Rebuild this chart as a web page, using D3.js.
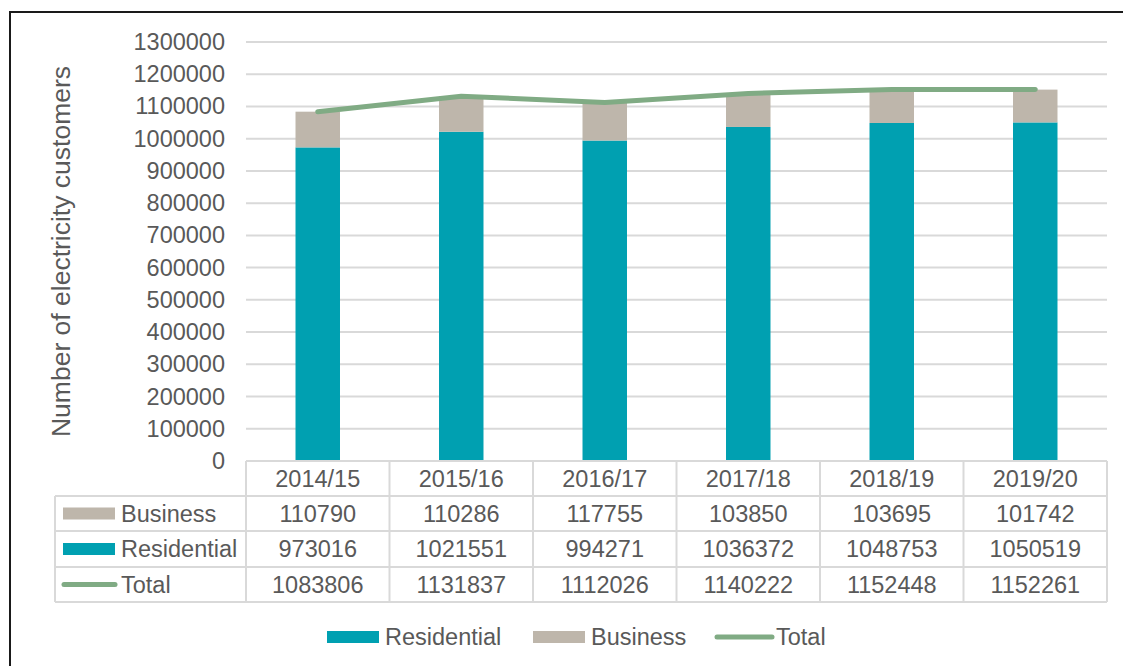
<!DOCTYPE html>
<html>
<head>
<meta charset="utf-8">
<script src="https://cdn.jsdelivr.net/npm/d3@7"></script>
<style>
  html, body { margin: 0; padding: 0; background: #fff; }
  svg { display: block; }
  text { font-family: "Liberation Sans", Arial, sans-serif; fill: #595959; }
</style>
</head>
<body>
<svg id="chart" width="1123" height="666"></svg>
<script>
// Electricity customers by financial year
const years = ["2014/15", "2015/16", "2016/17", "2017/18", "2018/19", "2019/20"];
const business = [110790, 110286, 117755, 103850, 103695, 101742];
const residential = [973016, 1021551, 994271, 1036372, 1048753, 1050519];
const total = [1083806, 1131837, 1112026, 1140222, 1152448, 1152261];
const yTicks = [0, 100000, 200000, 300000, 400000, 500000, 600000, 700000,
                800000, 900000, 1000000, 1100000, 1200000, 1300000];

const colors = { Residential: "#00A0B1", Business: "#BEB6AB", Total: "#80AB84" };
const grid = "#D9D9D9";
const fs = 23.5;

const svg = d3.select("#chart");

// outer frame
svg.append("path")
  .attr("d", "M10,700 L10,12 L1130,12")
  .attr("fill", "none").attr("stroke", "#1a1a1a").attr("stroke-width", 2);

const plot = { left: 246, right: 1107, top: 42, bottom: 461 };

const x = d3.scaleBand().domain(years).range([plot.left, plot.right]).paddingInner(0.69).paddingOuter(0.345);
const xCell = d3.scaleBand().domain(years).range([plot.left, plot.right]);
const y = d3.scaleLinear().domain([0, 1300000]).range([plot.bottom, plot.top]);

// gridlines
svg.append("g").selectAll("line").data(yTicks.filter(d => d > 0)).join("line")
  .attr("x1", plot.left).attr("x2", plot.right)
  .attr("y1", d => y(d)).attr("y2", d => y(d))
  .attr("stroke", grid).attr("stroke-width", 2);

// y axis labels
const yAxis = d3.axisLeft(y).tickValues(yTicks).tickSize(0).tickPadding(0).tickFormat(d3.format("d"));
const gy = svg.append("g").attr("transform", `translate(${plot.left - 21},0)`).call(yAxis);
gy.select(".domain").remove();
gy.selectAll("text").style("font-size", fs + "px").attr("fill", "#595959")
  .style("font-family", "'Liberation Sans', Arial, sans-serif");

// y axis title
svg.append("text")
  .attr("transform", `translate(61,${251.5}) rotate(-90)`)
  .attr("text-anchor", "middle")
  .attr("dy", "0.35em")
  .style("font-size", "26.5px")
  .text("Number of electricity customers");

// stacked bars
const stackData = years.map((yr, i) => ({ year: yr, Residential: residential[i], Business: business[i] }));
const series = d3.stack().keys(["Residential", "Business"])(stackData);
svg.append("g").selectAll("g").data(series).join("g")
  .attr("fill", s => colors[s.key])
  .selectAll("rect").data(s => s).join("rect")
  .attr("x", d => x(d.data.year))
  .attr("width", x.bandwidth())
  .attr("y", d => y(d[1]))
  .attr("height", d => y(d[0]) - y(d[1]));

// total line
const line = d3.line()
  .x((d, i) => x(years[i]) + x.bandwidth() / 2)
  .y(d => y(d));
svg.append("path").datum(total)
  .attr("d", line)
  .attr("fill", "none")
  .attr("stroke", colors.Total)
  .attr("stroke-width", 5)
  .attr("stroke-linecap", "round")
  .attr("stroke-linejoin", "round");

// data table
const rowEdges = [461, 496, 531, 567, 602];
const tableLeft = 55;
const tg = svg.append("g");
const tline = (x1, y1, x2, y2) => tg.append("line")
  .attr("x1", x1).attr("y1", y1).attr("x2", x2).attr("y2", y2)
  .attr("stroke", grid).attr("stroke-width", 2);

// horizontal lines
tline(plot.left, rowEdges[0], plot.right, rowEdges[0]);
for (let r = 1; r < rowEdges.length; r++) tline(tableLeft, rowEdges[r], plot.right, rowEdges[r]);
// vertical lines
tline(tableLeft, rowEdges[1], tableLeft, rowEdges[4]);
years.forEach(yr => tline(xCell(yr), rowEdges[0], xCell(yr), rowEdges[4]));
tline(plot.right, rowEdges[0], plot.right, rowEdges[4]);

const rowMid = r => (rowEdges[r] + rowEdges[r + 1]) / 2;
// header
tg.selectAll("text.hdr").data(years).join("text").attr("class", "hdr")
  .attr("x", d => xCell(d) + xCell.bandwidth() / 2)
  .attr("y", rowMid(0)).attr("dy", "0.35em")
  .attr("text-anchor", "middle").style("font-size", fs + "px")
  .text(d => d);

const rows = [
  { name: "Business", values: business, key: "rect" },
  { name: "Residential", values: residential, key: "rect" },
  { name: "Total", values: total, key: "line" }
];
rows.forEach((row, r) => {
  const cy = rowMid(r + 1);
  if (row.key === "rect") {
    tg.append("rect").attr("x", 63).attr("y", cy - 6).attr("width", 52).attr("height", 12)
      .attr("fill", colors[row.name]);
  } else {
    tg.append("line").attr("x1", 64).attr("x2", 115).attr("y1", cy).attr("y2", cy)
      .attr("stroke", colors.Total).attr("stroke-width", 5).attr("stroke-linecap", "round");
  }
  tg.append("text").attr("x", 121).attr("y", cy).attr("dy", "0.35em")
    .style("font-size", fs + "px").text(row.name);
  tg.selectAll(null).data(row.values).join("text")
    .attr("x", (d, i) => xCell(years[i]) + xCell.bandwidth() / 2)
    .attr("y", cy).attr("dy", "0.35em")
    .attr("text-anchor", "middle").style("font-size", fs + "px")
    .text(d => d);
});

// legend
const legend = [
  { name: "Residential", kind: "rect", x: 327 },
  { name: "Business", kind: "rect", x: 533 },
  { name: "Total", kind: "line", x: 717 }
];
const ly = 637;
legend.forEach(l => {
  if (l.kind === "rect") {
    svg.append("rect").attr("x", l.x).attr("y", ly - 6).attr("width", 52).attr("height", 12)
      .attr("fill", colors[l.name]);
  } else {
    svg.append("line").attr("x1", l.x).attr("x2", l.x + 55).attr("y1", ly).attr("y2", ly)
      .attr("stroke", colors.Total).attr("stroke-width", 5).attr("stroke-linecap", "round");
  }
  svg.append("text").attr("x", l.kind === "rect" ? l.x + 58 : l.x + 59).attr("y", ly).attr("dy", "0.35em")
    .style("font-size", fs + "px").text(l.name);
});
</script>
</body>
</html>
